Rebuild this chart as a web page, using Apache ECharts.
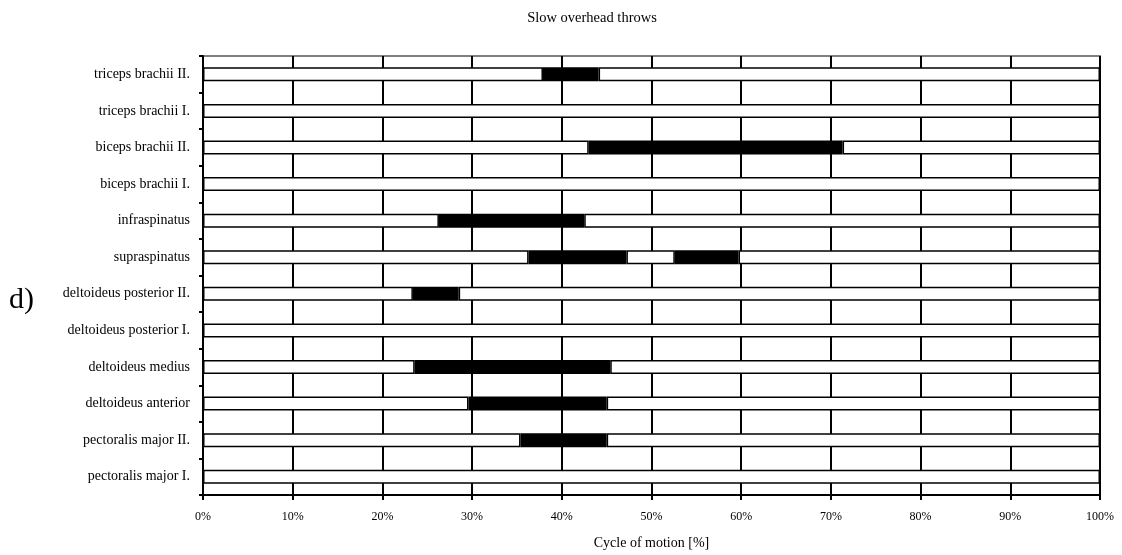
<!DOCTYPE html>
<html>
<head>
<meta charset="utf-8">
<script src="https://cdn.jsdelivr.net/npm/echarts@6/dist/echarts.min.js"></script>
<style>html,body{margin:0;padding:0;background:#fff}#c{width:1122px;height:555px}</style>
</head>
<body>
<div id="c"></div>
<script>
// Categories bottom to top
const categories = [
  'pectoralis major I.', 'pectoralis major II.', 'deltoideus anterior', 'deltoideus medius',
  'deltoideus posterior I.', 'deltoideus posterior II.', 'supraspinatus', 'infraspinatus',
  'biceps brachii I.', 'biceps brachii II.', 'triceps brachii I.', 'triceps brachii II.'
];
// Activity bursts (% of cycle); null = no activity
const burst1Start = [null, 35.4, 29.6, 23.6, null, 23.4, 36.3, 26.3, null, 43.0, null, 37.9];
const burst1End   = [null, 45.0, 45.0, 45.4, null, 28.5, 47.2, 42.5, null, 71.3, null, 44.1];
const burst2Start = [null, null, null, null, null, null, 52.6, null, null, null, null, null];
const burst2End   = [null, null, null, null, null, null, 59.7, null, null, null, null, null];
const xTicks = [0, 10, 20, 30, 40, 50, 60, 70, 80, 90, 100];

const r = v => v == null ? null : Math.round(v * 100) / 100;
const w1 = [], b1 = [], w2 = [], b2 = [], w3 = [];
categories.forEach((c, i) => {
  if (burst1Start[i] == null) { w1.push(100); b1.push(null); w2.push(null); b2.push(null); w3.push(null); return; }
  w1.push(r(burst1Start[i]));
  b1.push(r(burst1End[i] - burst1Start[i]));
  if (burst2Start[i] != null) {
    w2.push(r(burst2Start[i] - burst1End[i]));
    b2.push(r(burst2End[i] - burst2Start[i]));
    w3.push(r(100 - burst2End[i]));
  } else {
    w2.push(r(100 - burst1End[i])); b2.push(null); w3.push(null);
  }
});

const font = 'Liberation Serif';
const mk = (data, color) => ({
  type: 'bar', stack: 'all', data, barWidth: 14, silent: true,
  itemStyle: { color, borderColor: '#000', borderWidth: 1.5 }
});

const chart = echarts.init(document.getElementById('c'), null, { renderer: 'canvas' });
chart.setOption({
  animation: false,
  backgroundColor: '#fff',
  title: {
    text: 'Slow overhead throws', left: 587, top: 6, textAlign: 'center',
    textStyle: { fontFamily: font, fontSize: 14.5, fontWeight: 'normal', color: '#000' }
  },
  graphic: [{
    type: 'text', left: 9, top: 285,
    style: { text: 'd)', font: '30px "Liberation Serif"', fill: '#000' }
  }],
  grid: {
    left: 203, right: 22, top: 56, bottom: 60,
    outerBoundsMode: 'none', containLabel: false,
    show: true, borderColor: '#808080', borderWidth: 2, backgroundColor: '#fff'
  },
  xAxis: {
    type: 'value', min: 0, max: 100, interval: 10,
    name: 'Cycle of motion [%]', nameLocation: 'middle', nameGap: 41,
    nameTextStyle: { fontFamily: font, fontSize: 14, color: '#000' },
    axisLine: { show: true, lineStyle: { color: '#000', width: 2 } },
    axisTick: { show: true, length: 5, lineStyle: { color: '#000', width: 2 } },
    axisLabel: { formatter: v => xTicks.includes(v) ? v + '%' : '', fontFamily: font, fontSize: 12, color: '#000', margin: 16 },
    splitLine: { show: true, lineStyle: { color: '#000', width: 2 } }
  },
  yAxis: {
    type: 'category', data: categories,
    axisLine: { show: true, lineStyle: { color: '#000', width: 2 } },
    axisTick: { show: true, length: 4, lineStyle: { color: '#000', width: 2 } },
    axisLabel: { fontFamily: font, fontSize: 14, color: '#000', margin: 13 },
    splitLine: { show: false }
  },
  series: [mk(w1, '#fff'), mk(b1, '#000'), mk(w2, '#fff'), mk(b2, '#000'), mk(w3, '#fff')]
});
</script>
</body>
</html>
